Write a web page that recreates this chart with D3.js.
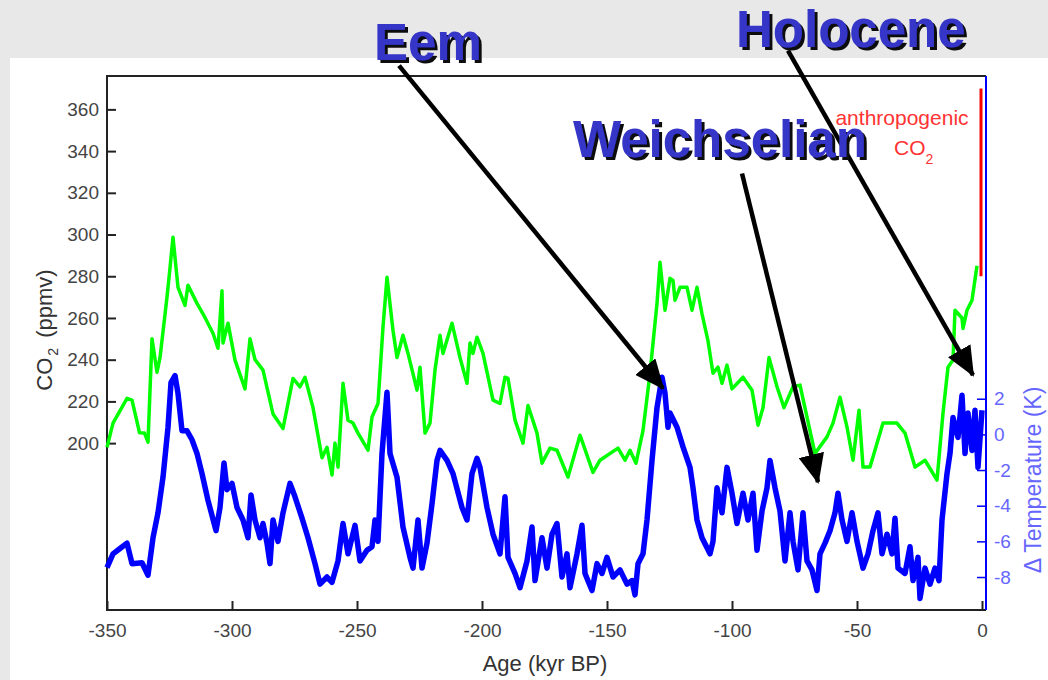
<!DOCTYPE html>
<html>
  <head>
    <meta charset="utf-8">
    <style>
      body { margin: 0; background: #e8e8e8; }
      text { font-family: "Liberation Sans", Arial, sans-serif; }
      .co2 { stroke: #00ff00; stroke-width: 3.5; fill: none; stroke-linejoin: round; }
      .temp { stroke: #0000ff; stroke-width: 5.5; fill: none; stroke-linejoin: round; }
      .anthro { stroke: #ff0000; stroke-width: 3; fill: none; }
      .arrow { stroke: #000; stroke-width: 4.5; fill: none; }
      .era { font-weight: bold; font-size: 51px; fill: #3535c8; }
    </style>
    <script src="https://d3js.org/d3.v7.min.js"></script>
  </head>
  <body>
  </body>
</html>

<script>
  var width = 1048,
    height = 680;

  // [age (kyr BP), CO2 ppmv]
  var co2Data = [
    [-350,198],[-347.6,209.6],[-342,221.5],[-340,220.6],[-337,205],[-335,204.8],[-333.6,200.5],
    [-332,250],[-330,234],[-328.8,241],[-326,270],[-324.8,284],[-323.6,298.7],[-321.6,274.7],
    [-318.8,266],[-317.6,275.7],[-314,267],[-311.6,262],[-307.6,252.7],[-305.6,245.5],[-304,273],
    [-303.6,248],[-301.6,257.5],[-298.8,239.8],[-294.8,226],[-292.8,250],[-290.8,240],[-287.6,235],
    [-283.6,214],[-279.6,207],[-275.6,231],[-272.8,227],[-270.8,231.6],[-267.6,217],[-264,193],
    [-262,198],[-260,184.7],[-258.8,200],[-257.6,188.5],[-255.6,228.7],[-253.6,211],[-251.6,209.6],
    [-249.6,204.8],[-245.6,196.6],[-244,212.5],[-241.6,219],[-239.6,255.6],[-238,279.5],[-235.6,254],
    [-234,241],[-231.6,251.7],[-229.6,243],[-226,225.4],[-224.8,236.4],[-222.8,204.8],[-220.8,209.6],
    [-218.8,235],[-216.8,251.7],[-215.6,243],[-212,257.5],[-208.8,241],[-206,228.7],[-204.8,248],
    [-203.6,243],[-202,250.8],[-199.6,243],[-195.6,220.6],[-192.8,219],[-190.8,231.6],[-189.6,231],
    [-186.8,211],[-183.6,200],[-181.6,218],[-178,204.8],[-176,190.4],[-172.8,197.6],[-170,196.6],
    [-165.6,183.7],[-160.8,203.8],[-155.6,186],[-152.8,191.8],[-145.6,197.6],[-142.8,191.8],
    [-140.8,196.6],[-138.4,190.4],[-135.6,206],[-132.8,233.5],[-130,267],[-128.8,286.7],[-126.8,263.7],
    [-124.8,279],[-123.6,278],[-122.8,268.5],[-120.8,274.7],[-118,274.7],[-116,263.7],[-114,274.7],
    [-112,262],[-109.6,249],[-107.6,233.5],[-105.6,236.4],[-104,228.7],[-102,237.4],[-100,226],
    [-95.6,231.6],[-92,225.4],[-89.6,208.6],[-87.6,217],[-85.2,241],[-82,227],[-79.2,217],[-75.6,227],
    [-72.8,227.8],[-70,212.5],[-66.8,195],[-62,203],[-59.6,209.6],[-56.8,222],[-54,207.7],[-51.6,191.8],
    [-49.2,215.8],[-47.6,188.5],[-44.8,188.5],[-39.6,209.6],[-34,209.6],[-30.8,204.8],[-26.8,188.5],
    [-22.8,191.8],[-18,182.3],[-15.6,214.4],[-13.6,236.4],[-11.6,239.8],[-10.8,263.7],[-8,260],
    [-7.6,255],[-6,263.7],[-4,268.5],[-2,285]
  ];

  // [age (kyr BP), delta T in K]
  var tempData = [
    [-350,-7.47],[-347.6,-6.7],[-344.8,-6.4],[-342,-6.1],[-340,-7.25],[-336,-7.2],[-333.6,-7.9],
    [-331.6,-5.8],[-329.6,-4.4],[-327.6,-2.4],[-325.6,0.4],[-324.4,2.9],[-322.8,3.3],[-321.6,2.3],
    [-320,0.2],[-318,0.2],[-316,-0.3],[-314,-1.07],[-312,-2.2],[-309.6,-3.7],[-306.4,-5.4],
    [-304.8,-4.1],[-303.2,-1.6],[-302,-3.1],[-300,-2.75],[-298,-4.1],[-295.6,-4.8],[-293.6,-5.8],
    [-292.4,-3.4],[-290.8,-4.8],[-288.8,-5.8],[-287.6,-5],[-286,-6.1],[-284.8,-7.25],[-283.6,-4.8],
    [-281.6,-6],[-279.6,-4.4],[-276.8,-2.75],[-274.8,-3.5],[-272,-4.7],[-269.6,-5.8],[-266.8,-7.25],
    [-264.8,-8.4],[-262,-8.0],[-260,-8.3],[-257.6,-7.1],[-255.6,-5],[-253.6,-6.7],[-250.8,-5.1],
    [-248.8,-7.1],[-246,-6.5],[-244,-6.3],[-242.8,-4.8],[-241.6,-6.0],[-240,-1.07],[-238,2.36],
    [-236.8,-1.07],[-234,-2.4],[-231.6,-5.2],[-228.8,-6.9],[-227.6,-7.5],[-225.6,-4.8],[-224,-7.5],
    [-222,-6.1],[-220,-3.9],[-218,-1.46],[-216.8,-0.9],[-214,-1.46],[-211.6,-2.2],[-208,-4.1],
    [-206,-4.8],[-204,-2.2],[-202,-1.35],[-200.8,-1.85],[-198,-4.1],[-195.6,-5.6],[-192.8,-6.7],
    [-190.8,-3.5],[-189.6,-6.9],[-186.8,-7.8],[-184.8,-8.6],[-182,-7.1],[-180,-5.2],[-178.8,-8.2],
    [-176,-5.8],[-174,-7.5],[-172,-5.6],[-170,-5],[-168,-8.0],[-166,-6.7],[-164.8,-8.6],[-162,-6.7],
    [-160,-5.1],[-158.8,-7.8],[-156,-8.76],[-154,-7.25],[-152,-7.8],[-150,-6.9],[-147.6,-8.0],
    [-144.8,-7.6],[-142,-8.4],[-140,-8.2],[-138.8,-9.0],[-137.6,-7.25],[-135.6,-6.7],[-134,-4.8],
    [-132,-1.46],[-130,1.5],[-128,3.2],[-126.8,2.3],[-125.6,0.4],[-124.8,1.2],[-122,0.4],[-119.6,-0.7],
    [-116.8,-1.85],[-115.6,-3.0],[-114,-4.8],[-112,-5.8],[-108.8,-6.7],[-107.6,-6.0],[-106,-3.0],
    [-104,-4.4],[-102,-1.85],[-100,-3.3],[-98,-5],[-95.6,-3.3],[-93.6,-4.8],[-91.6,-3.3],[-90,-6.5],
    [-88,-4.3],[-86,-3.0],[-84.8,-1.46],[-82.8,-3.0],[-80.8,-4.3],[-78.8,-7.1],[-76.8,-4.4],[-75.6,-6.0],
    [-73.6,-7.6],[-71.6,-4.4],[-70,-7.1],[-68,-7.6],[-66,-8.76],[-64.8,-6.7],[-62.8,-6.1],[-60.8,-5.4],
    [-58.8,-4.4],[-57.6,-3.3],[-56,-4.8],[-54,-6.0],[-52,-4.4],[-50,-6.0],[-47.6,-7.5],[-45.6,-6.7],
    [-43.6,-5.4],[-41.6,-4.4],[-40,-6.7],[-38,-5.6],[-36,-6.7],[-34.8,-4.7],[-33.6,-7.5],[-30.8,-7.8],
    [-28.8,-6.3],[-27.6,-8.2],[-25.6,-6.9],[-24.8,-9.2],[-22.8,-7.5],[-20.8,-8.4],[-18.8,-7.5],
    [-17.2,-8.2],[-16,-4.8],[-14,-2.2],[-12.8,-1.07],[-11.6,0.95],[-9.6,-0.17],[-8,2.2],[-6.8,-1.07],
    [-5.6,1.2],[-4,-0.9],[-2.8,1.35],[-1.6,-1.85],[0,1.35]
  ];

  // anthropogenic rise at present day
  var anthroData = [[-0.4, 280], [-0.4, 370]];

  var ageTicks = [-350, -300, -250, -200, -150, -100, -50, 0];
  var co2Ticks = [200, 220, 240, 260, 280, 300, 320, 340, 360];
  var tempTicks = [-8, -6, -4, -2, 0, 2];

  // era labels: text, arrow start [age, co2], arrow tip [age, co2]
  var eras = [
    { name: "Eem", from: [-233.2, 381], to: [-127.6, 226.3] },
    { name: "Weichselian", from: [-96, 329.3], to: [-65.6, 181.3] },
    { name: "Holocene", from: [-77.6, 388.2], to: [-3.6, 232.6] }
  ];

  var plot = { left: 107, right: 986, top: 76, bottom: 610 };
  var plain = d => String(d);

  var svg = d3.select("body")
    .append("svg")
    .attr("width", width)
    .attr("height", height);

  var defs = svg.append("defs");
  var shadow = defs.append("filter").attr("id", "shadow")
    .attr("x", "-10%").attr("y", "-20%").attr("width", "130%").attr("height", "150%");
  shadow.append("feDropShadow")
    .attr("dx", 3).attr("dy", 3).attr("stdDeviation", 0.4)
    .attr("flood-color", "#111").attr("flood-opacity", 1);

  defs.append("marker")
    .attr("id", "head")
    .attr("markerUnits", "userSpaceOnUse")
    .attr("viewBox", "0 0 30 26")
    .attr("refX", 28).attr("refY", 13)
    .attr("markerWidth", 30).attr("markerHeight", 26)
    .attr("orient", "auto")
    .append("path").attr("d", "M0,0L30,13L0,26Z").attr("fill", "#000");

  svg.append("rect").attr("width", width).attr("height", height).attr("fill", "#e8e8e8");
  svg.append("rect").attr("x", 10).attr("y", 58)
    .attr("width", width - 10).attr("height", height - 58).attr("fill", "#fff");

  var xScale = d3.scaleLinear().domain([-350, 0]).range([plot.left, 982]);
  var yCo2 = d3.scaleLinear().domain([120, 376]).range([plot.bottom, plot.top]);
  var yTemp = d3.scaleLinear().domain([-9.85, 20.1]).range([plot.bottom, plot.top]);

  // frame
  svg.append("path")
    .attr("d", "M" + plot.right + "," + plot.top + "H" + plot.left + "V" + plot.bottom + "H" + plot.right)
    .attr("fill", "none").attr("stroke", "#222").attr("stroke-width", 2);

  // x axis (ticks point inward)
  var xAxis = d3.axisBottom(xScale).tickValues(ageTicks).tickFormat(plain)
    .tickSizeInner(-9).tickSizeOuter(0).tickPadding(14);
  var gx = svg.append("g").attr("transform", "translate(0," + plot.bottom + ")").call(xAxis);
  gx.select(".domain").remove();
  gx.selectAll("line").attr("stroke", "#222").attr("stroke-width", 2);
  gx.selectAll("text").attr("fill", "#444").style("font-size", "19px")
    .style("font-family", "Liberation Sans, Arial, sans-serif");

  // left CO2 axis
  var yAxisL = d3.axisLeft(yCo2).tickValues(co2Ticks).tickFormat(plain)
    .tickSizeInner(-9).tickSizeOuter(0).tickPadding(8);
  var gl = svg.append("g").attr("transform", "translate(" + plot.left + ",0)").call(yAxisL);
  gl.select(".domain").remove();
  gl.selectAll("line").attr("stroke", "#222").attr("stroke-width", 2);
  gl.selectAll("text").attr("fill", "#444").style("font-size", "19px")
    .style("font-family", "Liberation Sans, Arial, sans-serif");

  // right temperature axis
  var yAxisR = d3.axisRight(yTemp).tickValues(tempTicks).tickFormat(plain)
    .tickSizeInner(-9).tickSizeOuter(0).tickPadding(8);
  var gr = svg.append("g").attr("transform", "translate(" + plot.right + ",0)").call(yAxisR);
  gr.select(".domain").remove();
  gr.selectAll("line").attr("stroke", "#0000ff").attr("stroke-width", 1.5);
  gr.selectAll("text").attr("fill", "#6666ff").style("font-size", "19px")
    .style("font-family", "Liberation Sans, Arial, sans-serif");
  svg.append("line")
    .attr("x1", plot.right).attr("x2", plot.right)
    .attr("y1", plot.top).attr("y2", plot.bottom)
    .attr("stroke", "#0000ff").attr("stroke-width", 2);

  // axis titles
  var co2Title = svg.append("text")
    .attr("transform", "translate(52,330) rotate(-90)")
    .attr("text-anchor", "middle").attr("fill", "#333").style("font-size", "22px");
  co2Title.append("tspan").text("CO");
  co2Title.append("tspan").attr("dy", 6).attr("dx", 2).style("font-size", "14px").text("2");
  co2Title.append("tspan").attr("dy", -6).attr("dx", 10).text("(ppmv)");

  svg.append("text")
    .attr("x", 545).attr("y", 671)
    .attr("text-anchor", "middle").attr("fill", "#333").style("font-size", "22px")
    .text("Age (kyr BP)");

  svg.append("text")
    .attr("transform", "translate(1041,480) rotate(-90)")
    .attr("text-anchor", "middle").attr("fill", "#6666ff").style("font-size", "23px")
    .text("\u0394 Temperature (K)");

  // curves
  var line = function(ys) {
    return d3.line().x(d => xScale(d[0])).y(d => ys(d[1]));
  };

  svg.append("path").attr("class", "co2").attr("d", line(yCo2)(co2Data));
  svg.append("path").attr("class", "temp").attr("d", line(yTemp)(tempData));
  svg.append("path").attr("class", "anthro").attr("d", line(yCo2)(anthroData));

  // anthropogenic label
  svg.append("text")
    .attr("x", 902).attr("y", 125)
    .attr("text-anchor", "middle").attr("fill", "#ff3333").style("font-size", "21px")
    .text("anthropogenic");
  var anthroCo2 = svg.append("text")
    .attr("x", 894).attr("y", 155)
    .attr("fill", "#ff3333").style("font-size", "21px");
  anthroCo2.append("tspan").text("CO");
  anthroCo2.append("tspan").attr("dy", 9).style("font-size", "14px").text("2");

  // arrows
  svg.selectAll(".arrow")
    .data(eras)
    .enter()
    .append("line")
    .attr("class", "arrow")
    .attr("x1", d => xScale(d.from[0])).attr("y1", d => yCo2(d.from[1]))
    .attr("x2", d => xScale(d.to[0])).attr("y2", d => yCo2(d.to[1]))
    .attr("marker-end", "url(#head)");

  // era labels with drop shadow
  var labelPos = { "Eem": [374, 60], "Weichselian": [573, 157], "Holocene": [736, 47] };
  svg.selectAll(".era")
    .data(eras)
    .enter()
    .append("text")
    .attr("class", "era")
    .attr("x", d => labelPos[d.name][0])
    .attr("y", d => labelPos[d.name][1])
    .attr("filter", "url(#shadow)")
    .text(d => d.name);
</script>
